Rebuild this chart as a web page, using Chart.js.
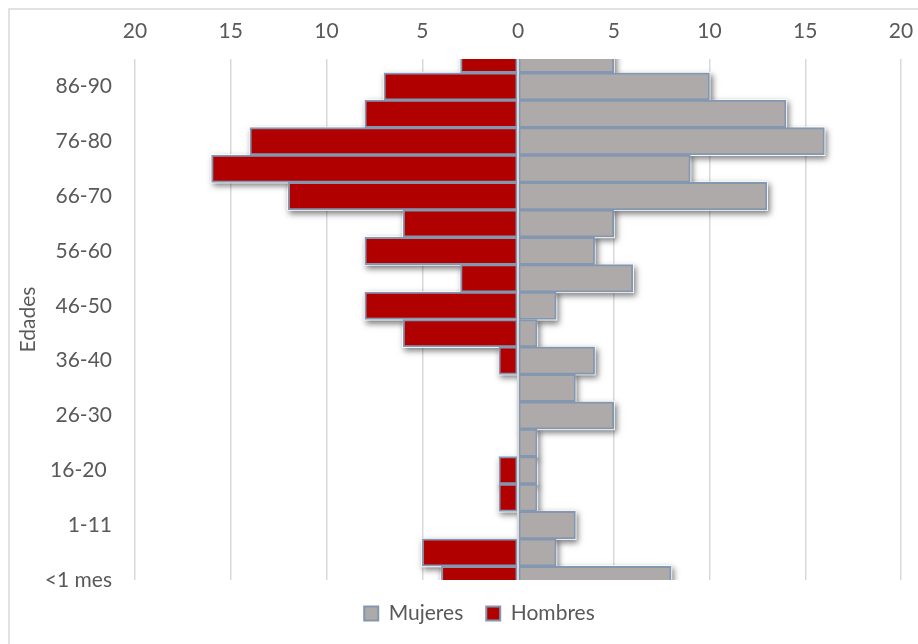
<!DOCTYPE html>
<html lang="es">
<head>
<meta charset="utf-8">
<title>Pirámide de edades</title>
<script src="https://cdn.jsdelivr.net/npm/chart.js@4.4.1/dist/chart.umd.min.js"></script>
<style>
  html, body { margin: 0; padding: 0; background: #ffffff; }
  canvas { display: block; }
</style>
</head>
<body>
<canvas id="piramide" width="918" height="644"></canvas>
<script>
// Grupos de edad, de menor a mayor (se dibujan de abajo hacia arriba)
const grupos = [
  '<1 mes', '1-11 meses', '1-11', '12-15', '16-20 ', '21-25', '26-30', '31-35',
  '36-40', '41-45', '46-50', '51-55', '56-60', '61-65', '66-70', '71-75',
  '76-80', '81-85', '86-90', '91-95'
];

// Casos por grupo de edad
const mujeres = [8, 2, 3, 1, 1, 1, 5, 3, 4, 1, 2, 6, 4, 5, 13, 9, 16, 14, 10, 5];
const hombres = [4, 5, 0, 1, 1, 0, 0, 0, 1, 6, 8, 3, 8, 6, 12, 16, 14, 8, 7, 3];

// Eje horizontal
const ejeMin = -20;
const ejeMax = 20;
const ejePaso = 5;

const colorTexto = '#595959';
const colorRejilla = '#d9d9d9';
const colorBorde = '#8497b0';
const fuente = 'Lato, "Open Sans", sans-serif';
const tamano = 21;

// Marco exterior del gráfico
const marco = {
  id: 'marco',
  beforeDraw(chart) {
    const ctx = chart.ctx;
    ctx.save();
    ctx.strokeStyle = colorRejilla;
    ctx.lineWidth = 1.5;
    ctx.strokeRect(9, 9, 2000, 2000);
    ctx.restore();
  }
};

// Sombra exterior de cada barra, pintada antes que las barras
const sombras = {
  id: 'sombras',
  beforeDatasetsDraw(chart) {
    const { ctx, chartArea } = chart;
    ctx.save();
    ctx.beginPath();
    ctx.rect(chartArea.left, chartArea.top, chartArea.width, chartArea.height);
    ctx.clip();
    ctx.shadowColor = 'rgba(0, 0, 0, 0.5)';
    ctx.shadowBlur = 6;
    ctx.shadowOffsetX = 2;
    ctx.shadowOffsetY = 3;
    ctx.fillStyle = '#ffffff';
    chart.data.datasets.forEach((ds, i) => {
      const meta = chart.getDatasetMeta(i);
      meta.data.forEach((bar, j) => {
        if (!ds.data[j]) return;
        const { x, y, base, height } = bar.getProps(['x', 'y', 'base', 'height'], true);
        const izq = Math.min(x, base);
        const ancho = Math.abs(x - base);
        ctx.fillRect(izq - 1, y - height / 2 - 1, ancho + 2, height + 2);
      });
    });
    ctx.restore();
  }
};

// Línea del cero por encima de las barras
const lineaCero = {
  id: 'lineaCero',
  afterDatasetsDraw(chart) {
    const { ctx, chartArea, scales } = chart;
    const x0 = scales.x.getPixelForValue(0);
    ctx.save();
    ctx.strokeStyle = colorRejilla;
    ctx.lineWidth = 2;
    ctx.beginPath();
    ctx.moveTo(x0, chartArea.top);
    ctx.lineTo(x0, chartArea.bottom);
    ctx.stroke();
    ctx.restore();
  }
};

// Desplaza la leyenda hacia la derecha
const leyendaCentrada = {
  id: 'leyendaCentrada',
  afterLayout(chart) {
    if (chart.legend) {
      chart.legend.left += 29;
      chart.legend.right += 29;
    }
  }
};

new Chart(document.getElementById('piramide'), {
  type: 'bar',
  data: {
    labels: grupos,
    datasets: [
      {
        label: 'Mujeres',
        data: mujeres,
        backgroundColor: '#aeaaaa',
        borderColor: colorBorde,
        borderWidth: 2,
        borderSkipped: false,
        barPercentage: 1,
        categoryPercentage: 1
      },
      {
        label: 'Hombres',
        data: hombres.map(v => -v),
        backgroundColor: '#b00000',
        borderColor: colorBorde,
        borderWidth: 2,
        borderSkipped: false,
        barPercentage: 1,
        categoryPercentage: 1
      }
    ]
  },
  options: {
    indexAxis: 'y',
    responsive: false,
    animation: false,
    layout: { padding: { left: 0, top: 0, right: 17, bottom: 10 } },
    scales: {
      x: {
        position: 'top',
        stacked: true,
        min: ejeMin,
        max: ejeMax,
        grid: { color: colorRejilla, lineWidth: 1.5, drawTicks: false },
        border: { display: false },
        ticks: {
          stepSize: ejePaso,
          padding: 15,
          color: colorTexto,
          font: { family: fuente, size: tamano },
          callback: v => Math.abs(v)
        },
        afterFit(scale) {
          scale.height = 59;
          scale.paddingLeft = 0;
          scale.paddingRight = 0;
        }
      },
      y: {
        stacked: true,
        reverse: true,
        offset: false,
        grid: { display: false, drawTicks: false },
        border: { display: false },
        ticks: {
          autoSkip: false,
          padding: 23,
          color: colorTexto,
          font: { family: fuente, size: tamano },
          callback(value, index) { return index % 2 === 0 ? this.getLabelForValue(value) : ''; }
        },
        title: {
          display: true,
          text: 'Edades',
          color: colorTexto,
          font: { family: fuente, size: tamano },
          padding: { top: 16, bottom: 0 }
        },
        afterFit(scale) { scale.width = 135; }
      }
    },
    plugins: {
      legend: {
        position: 'bottom',
        labels: {
          color: colorTexto,
          font: { family: fuente, size: tamano },
          boxWidth: 14,
          boxHeight: 14,
          padding: 23
        }
      },
      tooltip: { enabled: false }
    }
  },
  plugins: [marco, sombras, lineaCero, leyendaCentrada]
});
</script>
</body>
</html>
